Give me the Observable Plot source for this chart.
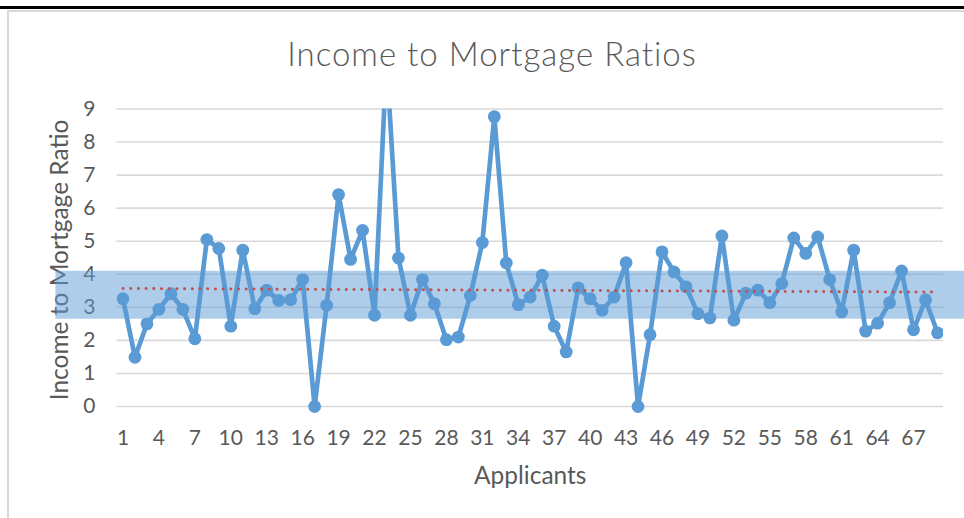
<!DOCTYPE html>
<html><head><meta charset="utf-8">
<script src="https://cdn.jsdelivr.net/npm/d3@7"></script>
<script src="https://cdn.jsdelivr.net/npm/@observablehq/plot@0.6"></script>
<style>
body{margin:0;background:#fff;}
#wrap{position:relative;width:964px;height:518px;overflow:hidden;font-family:Lato,"Open Sans",sans-serif;}
#topline{position:absolute;left:0;top:6px;width:964px;height:3px;background:#000;}
#box{position:absolute;left:7px;top:10px;width:980px;height:530px;border-left:2px solid #d9d9d9;border-top:2px solid #d9d9d9;}
#title{position:absolute;left:0;width:984px;top:33px;text-align:center;font-size:33px;letter-spacing:1px;color:#595959;font-weight:300;}
#chart{position:absolute;left:0;top:0;}
</style></head>
<body><div id="wrap"><div id="topline"></div><div id="box"></div><div id="chart"></div><div id="title">Income to Mortgage Ratios</div></div>
<script>
const applicants = [1,2,3,4,5,6,7,8,9,10,11,12,13,14,15,16,17,18,19,20,21,22,23,24,25,26,27,28,29,30,31,32,33,34,35,36,37,38,39,40,41,42,43,44,45,46,47,48,49,50,51,52,53,54,55,56,57,58,59,60,61,62,63,64,65,66,67,68,69];
const ratios = [3.26,1.49,2.5,2.94,3.41,2.94,2.05,5.05,4.78,2.43,4.73,2.96,3.52,3.21,3.23,3.84,0,3.06,6.41,4.45,5.33,2.76,10.5,4.49,2.76,3.84,3.11,2.02,2.1,3.36,4.96,8.77,4.34,3.08,3.31,3.97,2.43,1.65,3.59,3.26,2.91,3.31,4.35,0,2.17,4.68,4.07,3.62,2.81,2.68,5.16,2.61,3.43,3.52,3.14,3.72,5.1,4.63,5.13,3.84,2.86,4.73,2.28,2.52,3.14,4.1,2.32,3.23,2.23];
const xTickLabels = [1,4,7,10,13,16,19,22,25,28,31,34,37,40,43,46,49,52,55,58,61,64,67];
const yTickLabels = [0,1,2,3,4,5,6,7,8,9];
const trendX = [1,69];
const trendY = [3.57,3.46];
const bandY = [2.64,4.09];
const bandX = [-4.6,72];

const data = applicants.map((a,i)=>({a, r: ratios[i]}));
const trend = trendX.map((x,i)=>({x, y: trendY[i]}));
const band = [{x1:bandX[0], x2:bandX[1], y1:bandY[0], y2:bandY[1]}];

const chart = Plot.plot({
  width:964, height:518,
  marginLeft:116.5, marginRight:21, marginTop:108.5, marginBottom:103.75,
  x:{type:"linear", domain:[0.5,69.5]},
  y:{domain:[-0.25,9]},
  style:{fontFamily:"Lato, 'Open Sans', sans-serif", fontSize:"21px", color:"#595959", background:"transparent", overflow:"visible"},
  marks:[
    Plot.gridY(yTickLabels,{stroke:"#d9d9d9", strokeOpacity:1, strokeWidth:1.6}),
    Plot.axisY(yTickLabels,{tickSize:0, tickPadding:21.5, fontSize:21, fill:"#595959", label:null}),
    Plot.axisX(xTickLabels,{tickSize:0, tickPadding:15.75, fontSize:21, fill:"#595959", label:null}),
    Plot.text(["Income to Mortgage Ratio"],{frameAnchor:"left", textAnchor:"middle", rotate:-90, dx:-57, dy:-2, lineAnchor:"middle", fontSize:24.5, fill:"#595959"}),
    Plot.text(["Applicants"],{frameAnchor:"bottom", textAnchor:"middle", dy:61.5, lineAnchor:"middle", fontSize:24.5, fill:"#595959"}),
    Plot.rect(band,{x1:"x1", x2:"x2", y1:"y1", y2:"y2", fill:"#5B9BD5", fillOpacity:0.5}),
    Plot.line(data,{x:"a", y:"r", stroke:"#5B9BD5", strokeWidth:4.7, strokeLinejoin:"round", clip:true}),
    Plot.dot(data,{x:"a", y:"r", r:6.4, fill:"#5B9BD5", stroke:null, clip:true}),
    Plot.line(trend,{x:"x", y:"y", stroke:"#c0504d", strokeWidth:3, strokeDasharray:"0.1 7.6", strokeLinecap:"round"})
  ]
});
document.getElementById("chart").appendChild(chart);
</script>
</body></html>
